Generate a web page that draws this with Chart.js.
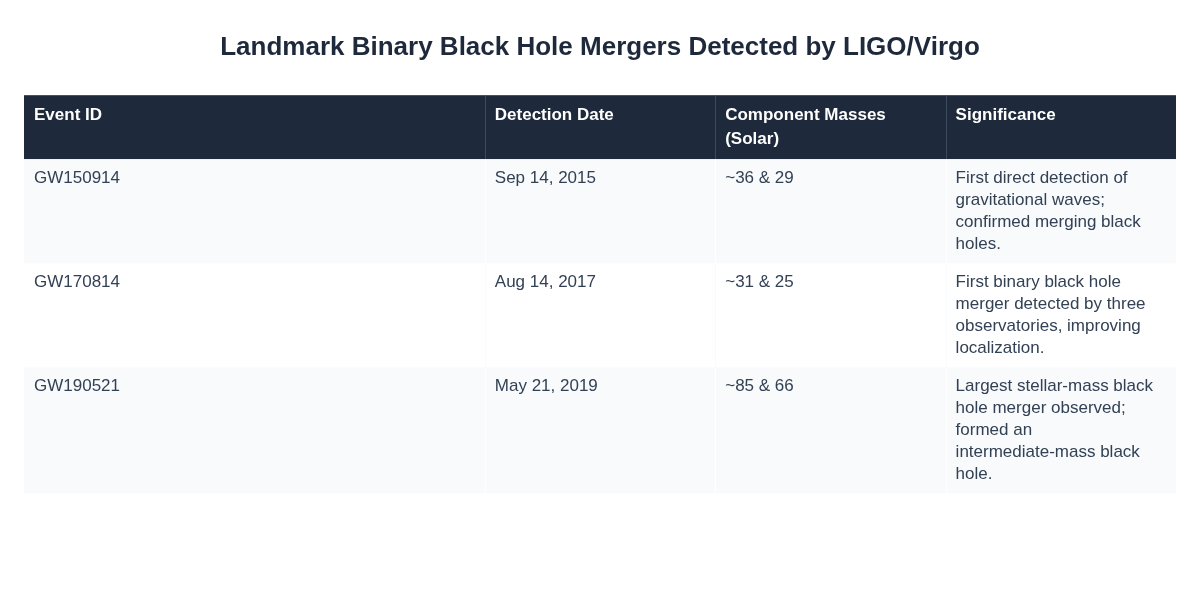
<!DOCTYPE html>
<html>
<head>
<meta charset="utf-8">
<script src="https://cdn.jsdelivr.net/npm/chart.js@4"></script>
<style>
  html, body { margin: 0; padding: 0; background: #ffffff; }
  #wrap { width: 1200px; height: 600px; }
</style>
</head>
<body>
<div id="wrap"><canvas id="tableChart"></canvas></div>
<script>
// Table content
const headers = ['Event ID', 'Detection Date', 'Component Masses (Solar)', 'Significance'];
const eventIds = ['GW150914', 'GW170814', 'GW190521'];
const detectionDates = ['Sep 14, 2015', 'Aug 14, 2017', 'May 21, 2019'];
const componentMasses = ['~36 & 29', '~31 & 25', '~85 & 66'];
const significance = [
  'First direct detection of gravitational waves; confirmed merging black holes.',
  'First binary black hole merger detected by three observatories, improving localization.',
  'Largest stellar-mass black hole merger observed; formed an intermediate-mass black hole.'
];
// Column boundaries on the x scale (percent of table width)
const columnEdges = [0, 40, 60, 80, 100];

const FONT = '"Liberation Sans", Arial, Helvetica, sans-serif';

function wrapText(ctx, text, maxWidth) {
  const words = text.split(' ');
  const lines = [];
  let line = '';
  words.forEach(w => {
    const test = line ? line + ' ' + w : w;
    if (ctx.measureText(test).width > maxWidth && line) {
      lines.push(line);
      line = w;
    } else {
      line = test;
    }
  });
  if (line) lines.push(line);
  return lines;
}

const tablePlugin = {
  id: 'tablePlugin',
  afterDraw(chart) {
    const ctx = chart.ctx;
    const xs = chart.scales.x;
    const edges = columnEdges.map(v => xs.getPixelForValue(v));
    const padX = 10, padY = 8;
    let y = chart.chartArea.top;

    const drawRow = (cells, opts) => {
      const lineH = opts.lineH;
      ctx.font = opts.font;
      const wrapped = cells.map((c, i) => wrapText(ctx, c, edges[i + 1] - edges[i] - padX * 2));
      const maxLines = Math.max(...wrapped.map(w => w.length));
      const h = maxLines * lineH + padY * 2;
      ctx.fillStyle = opts.bg;
      ctx.fillRect(edges[0], y, edges[edges.length - 1] - edges[0], h);
      if (opts.divider) {
        ctx.strokeStyle = opts.divider;
        ctx.lineWidth = 1;
        for (let i = 1; i < edges.length - 1; i++) {
          ctx.beginPath();
          ctx.moveTo(Math.round(edges[i]) + 0.5, y);
          ctx.lineTo(Math.round(edges[i]) + 0.5, y + h);
          ctx.stroke();
        }
      }
      ctx.fillStyle = opts.color;
      ctx.textBaseline = 'middle';
      ctx.textAlign = 'left';
      wrapped.forEach((lines, i) => {
        lines.forEach((ln, j) => {
          ctx.fillText(ln, edges[i] + padX, y + padY + lineH * j + lineH / 2);
        });
      });
      y += h;
    };

    ctx.save();
    drawRow(headers, { font: 'bold 17px ' + FONT, lineH: 24, bg: '#1e293b', color: '#ffffff', divider: '#3b4a5e' });
    eventIds.forEach((id, r) => {
      drawRow([id, detectionDates[r], componentMasses[r], significance[r]], {
        font: '17px ' + FONT,
        lineH: 22,
        bg: r % 2 === 0 ? '#f8fafc' : '#ffffff',
        color: '#334155',
        divider: r % 2 === 0 ? '#ffffff' : '#f8fafc'
      });
    });
    ctx.restore();
  }
};

new Chart(document.getElementById('tableChart'), {
  type: 'scatter',
  data: { datasets: [{ data: [] }] },
  options: {
    responsive: true,
    maintainAspectRatio: false,
    animation: false,
    layout: { padding: { left: 24, right: 24, top: 10, bottom: 0 } },
    plugins: {
      legend: { display: false },
      tooltip: { enabled: false },
      title: {
        display: true,
        text: 'Landmark Binary Black Hole Mergers Detected by LIGO/Virgo',
        color: '#1e293b',
        font: { family: FONT, size: 26, weight: 'bold' },
        padding: { top: 22, bottom: 32 }
      }
    },
    scales: {
      x: { type: 'linear', min: 0, max: 100, display: false },
      y: { type: 'linear', min: 0, max: 1, display: false }
    }
  },
  plugins: [tablePlugin]
});
</script>
</body>
</html>
